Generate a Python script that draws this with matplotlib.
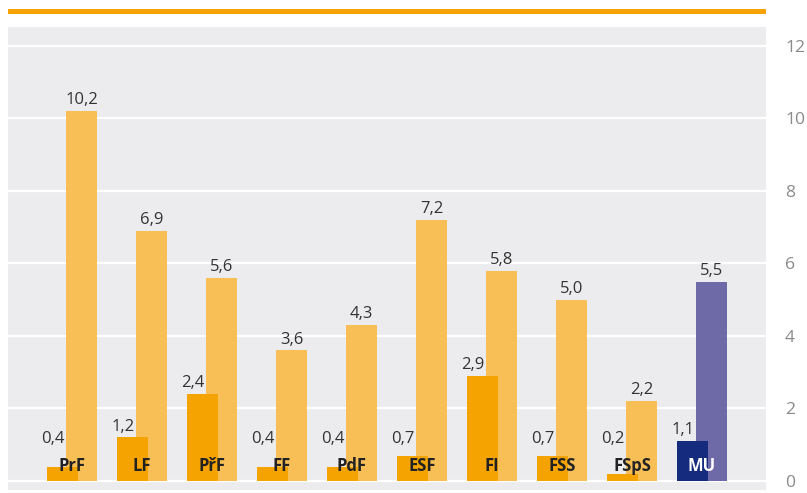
import matplotlib.pyplot as plt
from matplotlib.patches import Rectangle

plt.rcParams['font.family'] = ['Open Sans', 'DejaVu Sans']

faculties = ['PrF', 'LF', 'PřF', 'FF', 'PdF', 'ESF', 'FI', 'FSS', 'FSpS', 'MU']
first_vals = [0.4, 1.2, 2.4, 0.4, 0.4, 0.7, 2.9, 0.7, 0.2, 1.1]
second_vals = [10.2, 6.9, 5.6, 3.6, 4.3, 7.2, 5.8, 5.0, 2.2, 5.5]
yticks = [0, 2, 4, 6, 8, 10, 12]

dark_orange = '#f4a300'
light_orange = '#f9bf57'
navy = '#142b7e'
purple = '#6e6aa7'


def fmt(v):
    return f'{v:.1f}'.replace('.', ',')


W, H = 807, 493
fig = plt.figure(figsize=(W / 100, H / 100), dpi=100)
ax = fig.add_axes([8 / W, 3 / H, 758 / W, 463 / H])
ax.set_facecolor('#ececee')

# top orange rule
fig.add_artist(Rectangle((8 / W, 1 - 14 / H), 758 / W, 5 / H,
                         transform=fig.transFigure, color=dark_orange, lw=0))

off = 0.136
bw = 0.443
n = len(faculties)
for i in range(n):
    c1 = navy if faculties[i] == 'MU' else dark_orange
    c2 = purple if faculties[i] == 'MU' else light_orange
    ax.bar(i + off, second_vals[i], width=bw, color=c2, zorder=2)
    ax.bar(i - off, first_vals[i], width=bw, color=c1, zorder=3)

    ax.annotate(fmt(second_vals[i]), (i + off, second_vals[i]),
                xytext=(0, 2), textcoords='offset points',
                ha='center', va='bottom', fontsize=12, color='#333333', zorder=5)
    ax.annotate(fmt(first_vals[i]), (i - off - 0.14, max(first_vals[i], 0.85)),
                xytext=(0, 2), textcoords='offset points',
                ha='center', va='bottom', fontsize=12, color='#333333', zorder=5)
    ax.text(i, 0.42, faculties[i], ha='center', va='center', fontsize=12,
            fontweight='bold', color='white' if faculties[i] == 'MU' else '#222222',
            zorder=6)

ax.set_xlim(-0.914, 9.914)
ax.set_ylim(-0.248, 12.52)
ax.set_xticks([])
ax.set_yticks(yticks)
ax.yaxis.tick_right()
ax.tick_params(axis='y', length=0, pad=13.7, labelsize=12.6, labelcolor='#8a8a8a')
for lab in ax.get_yticklabels():
    lab.set_horizontalalignment('left')
ax.grid(axis='y', color='white', linewidth=1.6, zorder=1)
ax.set_axisbelow(True)
for s in ax.spines.values():
    s.set_visible(False)

fig.savefig('out.png', dpi=100)
